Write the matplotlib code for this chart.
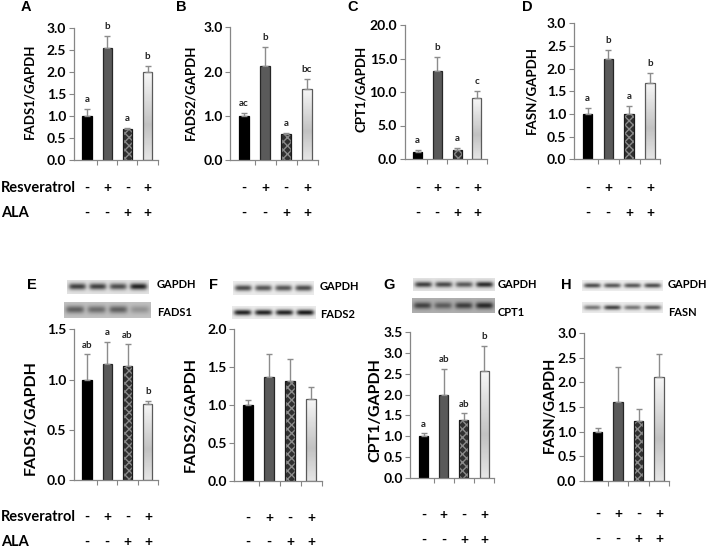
import numpy as np
import matplotlib
matplotlib.use('Agg')
import matplotlib.pyplot as plt
from matplotlib.ticker import FormatStrFormatter
from matplotlib.transforms import blended_transform_factory

W, H = 708, 549
fig = plt.figure(figsize=(W / 100, H / 100), dpi=100)
FONT = 'Lato'
plt.rcParams['font.family'] = [FONT, 'DejaVu Sans']

# ---------------- data ----------------
resveratrol = ['-', '+', '-', '+']
ala = ['-', '-', '+', '+']

# mRNA (top row)
fads1_mrna = [1.0, 2.54, 0.71, 1.99]
fads1_mrna_err = [0.17, 0.28, 0.02, 0.14]
fads1_mrna_sig = ['a', 'b', 'a', 'b']

fads2_mrna = [1.0, 2.12, 0.59, 1.61]
fads2_mrna_err = [0.07, 0.44, 0.03, 0.23]
fads2_mrna_sig = ['ac', 'b', 'a', 'bc']

cpt1_mrna = [1.05, 13.1, 1.3, 9.1]
cpt1_mrna_err = [0.3, 2.1, 0.3, 1.0]
cpt1_mrna_sig = ['a', 'b', 'a', 'c']

fasn_mrna = [1.01, 2.22, 0.99, 1.68]
fasn_mrna_err = [0.13, 0.2, 0.19, 0.22]
fasn_mrna_sig = ['a', 'b', 'a', 'b']

# protein (bottom row)
fads1_prot = [1.0, 1.15, 1.13, 0.76]
fads1_prot_err = [0.25, 0.22, 0.22, 0.03]
fads1_prot_sig = ['ab', 'a', 'ab', 'b']

fads2_prot = [1.0, 1.37, 1.31, 1.08]
fads2_prot_err = [0.07, 0.3, 0.29, 0.15]
fads2_prot_sig = None

cpt1_prot = [1.0, 1.99, 1.39, 2.56]
cpt1_prot_err = [0.07, 0.63, 0.16, 0.61]
cpt1_prot_sig = ['a', 'ab', 'ab', 'b']

fasn_prot = [1.0, 1.6, 1.21, 2.12]
fasn_prot_err = [0.07, 0.71, 0.25, 0.45]
fasn_prot_sig = None

# western blot band intensities (relative darkness per lane)
blot_e_gapdh = [0.6, 0.6, 0.55, 0.72]
blot_e_fads1 = [0.35, 0.3, 0.35, 0.15]
blot_f_gapdh = [0.62, 0.58, 0.58, 0.62]
blot_f_fads2 = [0.78, 0.78, 0.78, 0.82]
blot_g_gapdh = [0.62, 0.58, 0.52, 0.7]
blot_g_cpt1 = [0.4, 0.3, 0.42, 0.5]
blot_h_gapdh = [0.62, 0.58, 0.58, 0.62]
blot_h_fasn = [0.45, 0.65, 0.45, 0.55]

GRID = '#868686'
ERRC = '#8c8c8c'


def fy(y):
    return 1 - y / H


def make_axes(c0, sp, y0, ytop, xl=-0.65, xr=3.5):
    left = c0 + xl * sp
    right = c0 + xr * sp
    ax = fig.add_axes([left / W, 1 - y0 / H, (right - left) / W, (y0 - ytop) / H])
    ax.set_xlim(xl, xr)
    return ax


def draw_panel(ax, vals, errs, sig, ymax, ystep, ylabel, ylab_xy, ylab_fs,
               sign_y, tick_fs=10):
    x = np.arange(len(vals))
    bw = 0.45
    faces = ['black', '#5a5a5a', '#303030', 'none']
    edges = ['black', '#262626', '#8a8a8a', '#5a5a5a']
    bars = ax.bar(x, vals, width=bw, color=faces, edgecolor=edges,
                  linewidth=0.9, zorder=2)
    bars[2].set_hatch('xxxx')
    bars[2].set_linewidth(0)
    # outline for the checkered bar
    ax.bar(x[2:3], vals[2:3], width=bw, color='none', edgecolor='#1a1a1a',
           linewidth=0.9, zorder=2.1)
    # gradient fill for the 4th bar
    p = bars[3]
    grad = np.concatenate([np.linspace(0.97, 0.76, 60), np.linspace(0.76, 0.90, 40)])
    grad = grad[:, None]
    im = ax.imshow(grad, extent=[p.get_x(), p.get_x() + p.get_width(), 0, p.get_height()],
                   aspect='auto', cmap='gray', vmin=0, vmax=1, zorder=1.9,
                   interpolation='bilinear', origin='upper')
    im.set_clip_path(p)
    ax.errorbar(x, vals, yerr=[np.zeros(len(vals)), errs], fmt='none',
                ecolor=ERRC, elinewidth=1.0, capsize=2.2, capthick=1.0, zorder=3)
    ax.set_xlim(-0.65, 3.5)
    ax.set_ylim(0, ymax)
    ax.set_yticks(np.arange(0, ymax + 1e-9, ystep))
    ax.yaxis.set_major_formatter(FormatStrFormatter('%.1f'))
    ax.set_xticks([0.5, 1.5, 2.5, 3.5])
    ax.set_xticklabels([])
    for s in ['top', 'right']:
        ax.spines[s].set_visible(False)
    for s in ['left', 'bottom']:
        ax.spines[s].set_color(GRID)
        ax.spines[s].set_linewidth(0.9)
    ax.tick_params(axis='both', direction='out', length=3.5, width=0.8, color=GRID)
    ax.tick_params(axis='y', labelsize=tick_fs, pad=2)
    for t in ax.get_yticklabels():
        t.set_fontweight('bold')
    ax.set_facecolor('none')
    if sig is not None:
        for i in range(len(vals)):
            ax.annotate(sig[i], (x[i], vals[i] + errs[i]), xytext=(0, 3.5),
                        textcoords='offset points', ha='center', va='bottom',
                        fontsize=7, fontweight='bold', color='#222222')
    fig.text(ylab_xy[0] / W, fy(ylab_xy[1]), ylabel, rotation=90, ha='center',
             va='center', fontsize=ylab_fs, fontweight='bold')
    tr = blended_transform_factory(ax.transData, fig.transFigure)
    for i in range(len(vals)):
        ax.text(x[i], fy(sign_y[0]), resveratrol[i], transform=tr, ha='center',
                va='center', fontsize=10, fontweight='bold', clip_on=False)
        ax.text(x[i], fy(sign_y[1]), ala[i], transform=tr, ha='center',
                va='center', fontsize=10, fontweight='bold', clip_on=False)


def blot(rect, bg, levels, sigma=0.22, bgvar=0.0):
    x0, y0, x1, y1 = rect
    ax = fig.add_axes([x0 / W, 1 - y1 / H, (x1 - x0) / W, (y1 - y0) / H])
    nx, ny = 160, 40
    X, Y = np.meshgrid(np.linspace(0, 4, nx), np.linspace(0, 1, ny))
    img = np.full((ny, nx), bg) - bgvar * np.exp(-((Y - 0.5) / 0.5) ** 2)
    for i, lv in enumerate(levels):
        cx = i + 0.5
        band = np.exp(-np.abs((X - cx) / 0.42) ** 5) * np.exp(-((Y - 0.5) / sigma) ** 2)
        img = img - lv * band
    ax.imshow(np.clip(img, 0, 1), cmap='gray', vmin=0, vmax=1, aspect='auto',
              interpolation='bilinear', extent=[0, 4, 0, 1])
    ax.axis('off')


# ---------------- top row ----------------
top_signs = (188, 213)
axA = make_axes(87, 20.2, 160, 28)
draw_panel(axA, fads1_mrna, fads1_mrna_err, fads1_mrna_sig, 3.0, 0.5,
           'FADS1/GAPDH', (29, 91), 9.5, top_signs)
axB = make_axes(244, 21.0, 160, 27.3)
draw_panel(axB, fads2_mrna, fads2_mrna_err, fads2_mrna_sig, 3.0, 1.0,
           'FADS2/GAPDH', (190, 92), 9.5, top_signs)
axC = make_axes(417.5, 19.8, 159, 25)
draw_panel(axC, cpt1_mrna, cpt1_mrna_err, cpt1_mrna_sig, 20.0, 5.0,
           'CPT1/GAPDH', (361, 89), 9.5, top_signs)
axD = make_axes(587.5, 20.8, 159.3, 23.3)
draw_panel(axD, fasn_mrna, fasn_mrna_err, fasn_mrna_sig, 3.0, 0.5,
           'FASN/GAPDH', (531, 90), 9.5, top_signs)

# ---------------- bottom row ----------------
axE = make_axes(87, 20.3, 480, 329.3)
draw_panel(axE, fads1_prot, fads1_prot_err, fads1_prot_sig, 1.5, 0.5,
           'FADS1/GAPDH', (31, 418), 11.5, (517, 542))
axF = make_axes(248, 21.0, 481, 328.7)
draw_panel(axF, fads2_prot, fads2_prot_err, fads2_prot_sig, 2.0, 0.5,
           'FADS2/GAPDH', (191, 414), 11.5, (518, 542))
axG = make_axes(423.5, 20.2, 478.3, 331.7)
draw_panel(axG, cpt1_prot, cpt1_prot_err, cpt1_prot_sig, 3.5, 0.5,
           'CPT1/GAPDH', (375, 410), 11.5, (515, 540))
axH = make_axes(597.5, 20.5, 480.7, 333.3)
draw_panel(axH, fasn_prot, fasn_prot_err, fasn_prot_sig, 3.0, 0.5,
           'FASN/GAPDH', (550, 405), 10.5, (514, 539))

# row labels
for y, lab in [(188, 'Resveratrol'), (213, 'ALA'), (517, 'Resveratrol'), (542, 'ALA')]:
    fig.text(1 / W, fy(y), lab, ha='left', va='center', fontsize=10.5, fontweight='bold')

# panel letters
for x, y, lab in [(26, 7, 'A'), (181, 7, 'B'), (353, 7, 'C'), (527, 7, 'D'),
                  (32, 285, 'E'), (214, 285, 'F'), (389, 285, 'G'), (566, 285, 'H')]:
    fig.text(x / W, fy(y), lab, ha='center', va='center', fontsize=10.5,
             fontweight='bold', family='Liberation Sans')

# blots
blot((67, 280, 149, 294), 0.9, blot_e_gapdh, bgvar=0.04)
blot((64, 302, 151, 318), 0.78, blot_e_fads1, bgvar=0.05)
blot((233, 281, 314, 295), 0.92, blot_f_gapdh)
blot((232, 306, 315, 319), 0.92, blot_f_fads2)
blot((413, 278, 495, 291), 0.9, blot_g_gapdh, bgvar=0.03)
blot((412, 298, 495, 313), 0.7, blot_g_cpt1, bgvar=0.04)
blot((582, 280, 663, 291), 0.93, blot_h_gapdh)
blot((582, 302, 663, 313), 0.92, blot_h_fasn)

blot_labels = [(157, 285, 'GAPDH'), (157, 312, 'FADS1'),
               (320, 287, 'GAPDH'), (320, 314, 'FADS2'),
               (498, 285, 'GAPDH'), (498, 313, 'CPT1'),
               (668, 285, 'GAPDH'), (668, 312, 'FASN')]
for x, y, lab in blot_labels:
    fig.text(x / W, fy(y), lab, ha='left', va='center', fontsize=8, fontweight='bold')

fig.savefig('out.png', dpi=100)
